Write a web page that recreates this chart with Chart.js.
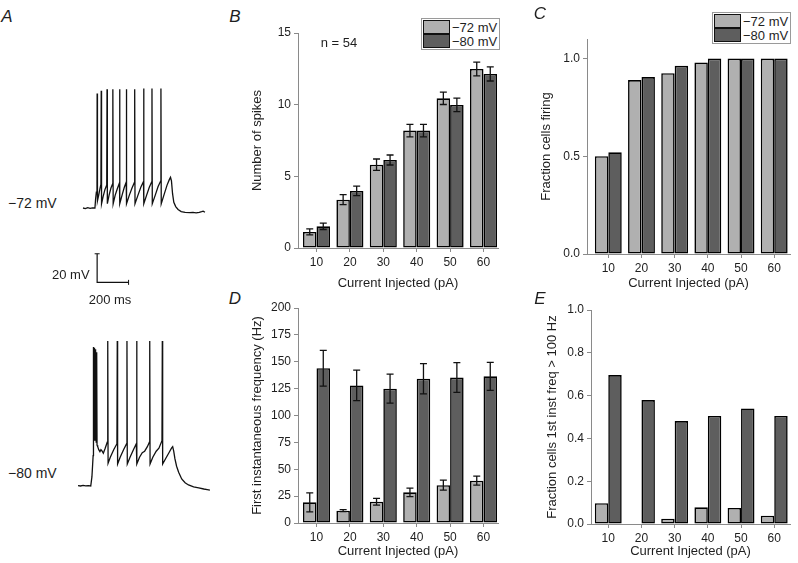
<!DOCTYPE html>
<html><head><meta charset="utf-8">
<script src="https://cdn.jsdelivr.net/npm/chart.js@4.4.0/dist/chart.umd.min.js"></script>
<style>
html,body{margin:0;padding:0;background:#fff;}
#wrap{position:relative;width:798px;height:563px;overflow:hidden;font-family:"Liberation Sans",Arial,Helvetica,sans-serif;color:#1e1e1e;}
canvas{position:absolute;}
.t{position:absolute;white-space:nowrap;font-size:13px;line-height:1;z-index:4;}
.c{transform:translate(-50%,-50%);}
.l{transform:translateY(-50%);}
.pl{position:absolute;font-style:italic;font-size:17px;line-height:1;transform:translate(-50%,-50%);z-index:4;}
.leg{position:absolute;border:1px solid #9a9a9a;padding:1px 2px 1px 1px;background:#fff;z-index:5;}
.row{display:flex;align-items:center;height:14px;font-size:13px;line-height:1;}
.sw{width:27px;height:14px;box-sizing:border-box;border:1.5px solid #111;margin-right:2px;}
</style></head>
<body><div id="wrap">
<canvas id="a1"></canvas><canvas id="a2"></canvas>
<canvas id="cb"></canvas><canvas id="cc"></canvas><canvas id="cd"></canvas><canvas id="ce"></canvas>
<div class="pl" style="left:7px;top:16px">A</div>
<div class="pl" style="left:235px;top:16px">B</div>
<div class="pl" style="left:540px;top:13px">C</div>
<div class="pl" style="left:235px;top:298px">D</div>
<div class="pl" style="left:540px;top:298px">E</div>
<div class="t l" style="left:8px;top:203px;font-size:14px">−72 mV</div>
<div class="t l" style="left:8px;top:473px;font-size:14px">−80 mV</div>
<div class="t l" style="left:52px;top:274px">20 mV</div>
<div class="t c" style="left:110px;top:299px">200 ms</div>
<div class="t c" style="left:339px;top:42px">n = 54</div>
<div class="leg" id="legB" style="left:421px;top:18px"></div>
<div class="leg" id="legC" style="left:712px;top:12px"></div>
</div>
<script>
// ---------- data ----------
const CURRENTS = [10, 20, 30, 40, 50, 60];
const SERIES = ['−72 mV', '−80 mV'];
const X_TITLE = 'Current Injected (pA)';

const spikes72    = [1.12, 3.37, 5.81, 8.19, 10.44, 12.49];
const spikes72Err = [0.21, 0.35, 0.40, 0.44, 0.43, 0.48];
const spikes80    = [1.51, 3.98, 6.14, 8.19, 9.98, 12.14];
const spikes80Err = [0.22, 0.33, 0.35, 0.44, 0.47, 0.49];

const firing72 = [0.50, 0.89, 0.925, 0.98, 1.0, 1.0];
const firing80 = [0.52, 0.905, 0.963, 1.0, 1.0, 1.0];

const freq72    = [19.2, 11.5, 19.8, 28.5, 35.2, 39.4];
const freq72Err = [8.9, 1.0, 3.2, 4.0, 4.6, 4.2];
const freq80    = [144.0, 128.0, 125.0, 134.2, 135.3, 136.4];
const freq80Err = [16.6, 14.2, 13.5, 14.0, 13.8, 13.0];

const frac72 = [0.097, 0.0, 0.025, 0.078, 0.075, 0.039];
const frac80 = [0.696, 0.579, 0.481, 0.505, 0.540, 0.505];

const ticksB = [0, 5, 10, 15];
const ticksC = [0, 0.5, 1.0];
const ticksD = [0, 25, 50, 75, 100, 125, 150, 175, 200];
const ticksE = [0, 0.2, 0.4, 0.6, 0.8, 1.0];

// membrane potential traces: [time ms, voltage mV]
const trace72 = [
 [0,-72],[15,-72.4],[30,-71.8],[45,-72.2],[60,-71.9],[76,-72],
 [80,-66],[85,-61],[89,-58],
 [90,8],[92,-67],[100,-63],[108,-58.5],[114,-55.5],
 [116,10],[118,-69],[128,-64],[140,-59],[151,-56],
 [153,11],[155,-69],[166,-63],[178,-58],[189,-55],
 [190,11],[192,-69],[205,-63],[220,-58],[232,-54.5],
 [233,11],[235,-69],[250,-62.5],[263,-57.5],[275,-54],
 [276,11],[278,-69],[295,-63],[312,-58],[328,-54],
 [329,11],[331,-69],[350,-63],[368,-57.5],[385,-53.5],
 [386,11.5],[388,-69],[405,-63],[422,-57.5],[438,-53.5],
 [439,11.5],[441,-69],[460,-63],[478,-57],[495,-53],
 [496,11.5],[498,-69],[515,-63],[535,-56],[550,-52],[557,-50.5],[563,-53],[570,-62],
 [578,-68],[590,-71],[605,-73],[625,-74.5],[650,-75],[680,-75.3],[700,-75],[720,-75.4],
 [740,-75.1],[755,-74.6],[765,-74.2],[776,-75]
];
const trace80 = [
 [0,-80],[15,-80.2],[30,-79.8],[45,-80.1],[60,-80],[75,-80.2],
 [82,-74],[86,-66],[89,-60],
 [90,12.5],[92,-52],[95,12],[97,-50],[100,11],[102,-50],[105,10],[107,-51],[110,9],[112,-53],
 [116,-54],[122,-56],[129,-57.3],[135,-56],[142,-57],[149,-58.4],[160,-55],[172,-51],
 [175,16.5],[177,-65],[190,-61],[210,-56],[229,-52],
 [231,16.5],[233,-65.5],[248,-61],[268,-56],[286,-52],
 [288,16.5],[290,-65.5],[306,-61],[326,-56],[343,-52],
 [345,16.5],[347,-65.5],[362,-61],[378,-58],[392,-57],[408,-54],[420,-51],
 [422,16.5],[424,-65.5],[440,-61],[460,-57],[476,-55],[494,-50],
 [496,16.5],[498,-65.5],[515,-62],[535,-58],[550,-55],[557,-54],[563,-57],[570,-62],
 [580,-67],[592,-71],[610,-75.5],[630,-78],[650,-79.5],[680,-80.8],[710,-81.5],
 [740,-82.2],[760,-82.6],[776,-83]
];
const SCALE_MS = 200, SCALE_MV = 20;
const scaleBarAt = {t: 90, v: -124};   // corner of the scale bar (ms, mV)

// ---------- style ----------
const FILLS = ['#b0b0b0', '#5e5e5e'];
const AXIS_COL = '#8a8a8a';
const TXT = '#1e1e1e';
Chart.defaults.font.family = '"Liberation Sans", Arial, Helvetica, sans-serif';
Chart.defaults.color = TXT;

// legends (HTML)
['legB','legC'].forEach(id => {
  const el = document.getElementById(id);
  el.innerHTML = SERIES.map((s,k) =>
    `<div class="row"><span class="sw" style="background:${FILLS[k]}"></span><span>${s}</span></div>`).join('');
});

const errorBars = {
  id: 'errorBars',
  afterDatasetsDraw(chart) {
    const ctx = chart.ctx, ys = chart.scales.y;
    chart.data.datasets.forEach((ds, i) => {
      if (!ds.errors) return;
      const meta = chart.getDatasetMeta(i);
      meta.data.forEach((el, j) => {
        const v = ds.data[j].y, e = ds.errors[j];
        const x = el.x, y1 = ys.getPixelForValue(v + e), y2 = ys.getPixelForValue(v - e);
        ctx.save();
        ctx.strokeStyle = '#111'; ctx.lineWidth = 1.3;
        ctx.beginPath();
        ctx.moveTo(x, y1); ctx.lineTo(x, y2);
        ctx.moveTo(x - 3.5, y1); ctx.lineTo(x + 3.5, y1);
        ctx.moveTo(x - 3.5, y2); ctx.lineTo(x + 3.5, y2);
        ctx.stroke(); ctx.restore();
      });
    });
  }
};

function place(cv, L) {
  cv.width = L.width; cv.height = L.height;
  cv.style.left = L.left + 'px'; cv.style.top = L.top + 'px';
  cv.style.width = L.width + 'px'; cv.style.height = L.height + 'px';
}

function barPanel(cfg) {
  const cv = document.getElementById(cfg.id);
  const L = cfg.layout;
  place(cv, L);
  const datasets = cfg.series.map((s, k) => ({
    label: SERIES[k],
    data: CURRENTS.map((c, i) => ({x: c, y: s.values[i]})),
    errors: s.errors || null,
    backgroundColor: FILLS[k], borderColor: '#000', borderWidth: 1.6, borderSkipped: false,
    categoryPercentage: 0.81, barPercentage: 1.0
  }));
  const grid = {display: true, drawOnChartArea: false, drawTicks: true, tickLength: 4, color: AXIS_COL, offset: false};
  new Chart(cv, {
    type: 'bar',
    data: {datasets},
    options: {
      responsive: false, devicePixelRatio: 1, animation: false,
      layout: {padding: {top: L.padTop, right: L.padRight, left: 0, bottom: 0}},
      plugins: {legend: {display: false}, tooltip: {enabled: false}},
      scales: {
        x: {
          type: 'linear', min: cfg.xMin, max: cfg.xMax, offset: false,
          afterBuildTicks: s => { s.ticks = CURRENTS.map(v => ({value: v})); },
          afterFit: s => { s.height = L.axisH; },
          ticks: {font: {size: 12}, color: TXT, padding: 3, maxRotation: 0, autoSkip: false, callback: v => String(v)},
          grid, border: {display: true, color: AXIS_COL, width: 1},
          title: {display: true, text: X_TITLE, font: {size: 13}, color: TXT, padding: {top: 0, bottom: 4}}
        },
        y: {
          min: cfg.yMin, max: cfg.yMax,
          afterBuildTicks: s => { s.ticks = cfg.yTicks.map(v => ({value: v})); },
          afterFit: s => { s.width = L.axisW; },
          ticks: {font: {size: 12}, color: TXT, padding: 3, autoSkip: false, callback: cfg.fmt},
          grid, border: {display: true, color: AXIS_COL, width: 1},
          title: {display: true, text: cfg.yTitle, font: {size: 13}, color: TXT, padding: {top: 4, bottom: 0}}
        }
      }
    },
    plugins: [errorBars]
  });
}

const intFmt = v => String(v);
const decFmt = v => Number(v).toFixed(1);

barPanel({id: 'cb', layout: {left: 246, top: 20, width: 256, height: 275, axisW: 52, axisH: 47, padTop: 13, padRight: 4},
  xMin: 4.46, xMax: 64.34, yMin: 0, yMax: 15, yTicks: ticksB, fmt: intFmt, yTitle: 'Number of spikes',
  series: [{values: spikes72, errors: spikes72Err}, {values: spikes80, errors: spikes80Err}]});
barPanel({id: 'cc', layout: {left: 535, top: 20, width: 260, height: 275, axisW: 52, axisH: 41, padTop: 19, padRight: 5},
  xMin: 3.58, xMax: 64.76, yMin: 0, yMax: 1.1, yTicks: ticksC, fmt: decFmt, yTitle: 'Fraction cells firing',
  series: [{values: firing72}, {values: firing80}]});
barPanel({id: 'cd', layout: {left: 246, top: 296, width: 256, height: 267, axisW: 52, axisH: 40, padTop: 12, padRight: 4},
  xMin: 4.46, xMax: 64.34, yMin: 0, yMax: 200, yTicks: ticksD, fmt: intFmt, yTitle: 'First instantaneous frequency (Hz)',
  series: [{values: freq72, errors: freq72Err}, {values: freq80, errors: freq80Err}]});
barPanel({id: 'ce', layout: {left: 541, top: 296, width: 254, height: 267, axisW: 50, axisH: 39, padTop: 14, padRight: 5},
  xMin: 4.8, xMax: 64.75, yMin: 0, yMax: 1.0, yTicks: ticksE, fmt: decFmt, yTitle: 'Fraction cells 1st inst freq > 100 Hz',
  series: [{values: frac72}, {values: frac80}]});

// ---------- traces ----------
const PX_PER_MS = 0.17, PX_PER_MV = 1.5;
function traceChart(id, L, pts, baseV, basePx, extra) {
  const cv = document.getElementById(id);
  place(cv, L);
  const yMax = baseV + (basePx - L.top) / PX_PER_MV;
  const yMin = yMax - L.height / PX_PER_MV;
  const datasets = [{
    data: pts.map(p => ({x: p[0], y: p[1]})),
    borderColor: '#111', borderWidth: 1.3, pointRadius: 0, tension: 0, clip: false
  }].concat(extra || []);
  new Chart(cv, {
    type: 'line',
    data: {datasets},
    options: {
      responsive: false, devicePixelRatio: 1, animation: false,
      layout: {padding: 0},
      plugins: {legend: {display: false}, tooltip: {enabled: false}},
      scales: {
        x: {type: 'linear', display: false, min: 0, max: L.width / PX_PER_MS},
        y: {type: 'linear', display: false, min: yMin, max: yMax}
      }
    }
  });
}
const scaleBar = {
  data: [{x: scaleBarAt.t, y: scaleBarAt.v + SCALE_MV}, {x: scaleBarAt.t, y: scaleBarAt.v}, {x: scaleBarAt.t + SCALE_MS, y: scaleBarAt.v}],
  borderColor: '#111', borderWidth: 1.2, tension: 0, clip: false,
  pointStyle: 'line', pointRadius: [2.5, 0, 2.5], pointRotation: [0, 0, 90],
  pointBorderColor: '#111', pointBorderWidth: 1
};
traceChart('a1', {left: 78, top: 80, width: 132, height: 215}, trace72, -72, 209, [scaleBar]);
traceChart('a2', {left: 78, top: 330, width: 132, height: 170}, trace80, -80, 485.7);
</script>
</body></html>
